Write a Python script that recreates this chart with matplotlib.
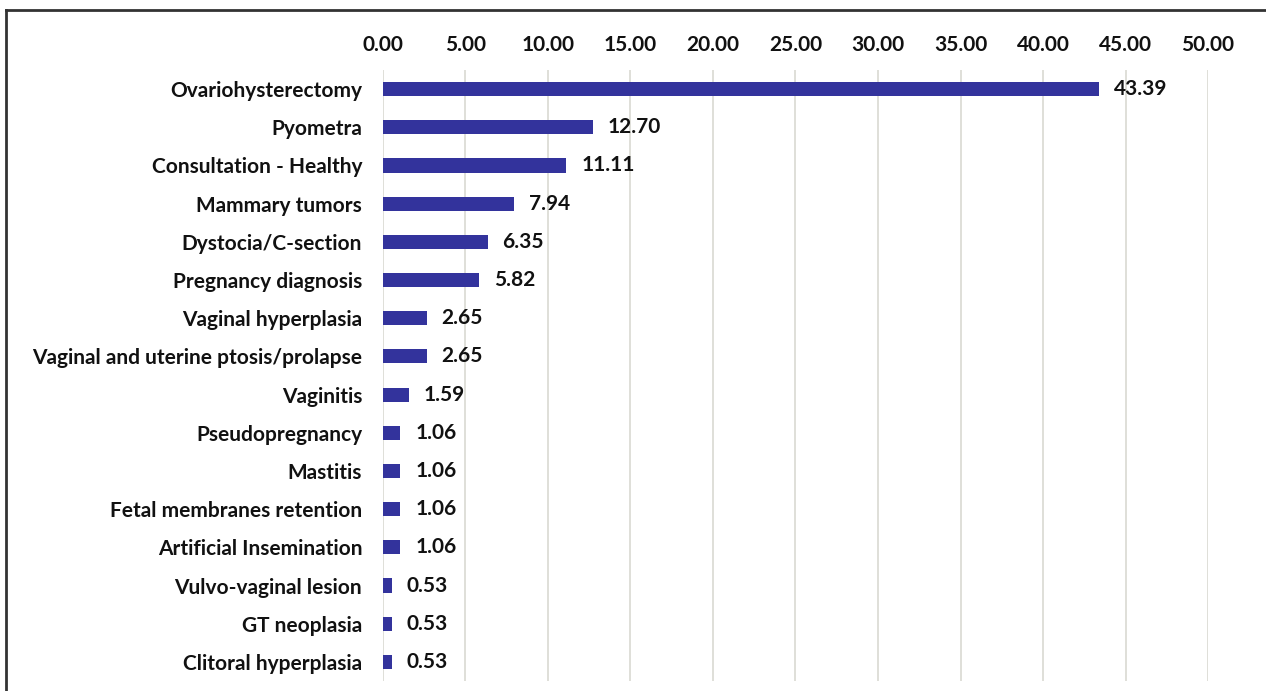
import matplotlib
matplotlib.use("Agg")
import matplotlib.pyplot as plt
from matplotlib.lines import Line2D

categories = [
    "Ovariohysterectomy",
    "Pyometra",
    "Consultation - Healthy",
    "Mammary tumors",
    "Dystocia/C-section",
    "Pregnancy diagnosis",
    "Vaginal hyperplasia",
    "Vaginal and uterine ptosis/prolapse",
    "Vaginitis",
    "Pseudopregnancy",
    "Mastitis",
    "Fetal membranes retention",
    "Artificial Insemination",
    "Vulvo-vaginal lesion",
    "GT neoplasia",
    "Clitoral hyperplasia",
]
values = [43.39, 12.70, 11.11, 7.94, 6.35, 5.82, 2.65, 2.65, 1.59,
          1.06, 1.06, 1.06, 1.06, 0.53, 0.53, 0.53]
x_ticks = [0, 5, 10, 15, 20, 25, 30, 35, 40, 45, 50]

plt.rcParams["font.family"] = ["Lato", "DejaVu Sans"]
plt.rcParams["font.weight"] = "bold"

fig = plt.figure(figsize=(12.66, 6.91), dpi=100)
ax = fig.add_axes([0.3025, 0.0145, 0.6517, 0.8842])

bar_color = "#33339c"
fs = 15
y = list(range(len(categories)))
ax.barh(y, values, height=0.37, color=bar_color, zorder=3)

# 棒の右に数値ラベル
for yi, v in zip(y, values):
    ax.text(v + 0.9, yi, f"{v:.2f}", va="center", ha="left",
            fontsize=fs, fontweight="bold", color="#111111")

ax.set_ylim(len(categories) - 0.5, -0.5)
ax.set_xlim(0, 50)
ax.set_xticks(x_ticks)
ax.set_xticklabels([f"{t:.2f}" for t in x_ticks])
ax.xaxis.tick_top()
ax.tick_params(axis="x", length=0, pad=11, labelsize=fs, labelcolor="#111111")
ax.set_yticks(y)
ax.set_yticklabels(categories)
ax.tick_params(axis="y", length=0, pad=15, labelsize=fs, labelcolor="#111111")

ax.xaxis.grid(True, color="#dcdcd6", linewidth=1.3, zorder=0)
ax.set_axisbelow(True)
for s in ax.spines.values():
    s.set_visible(False)

# 外枠（左と上）
fig.add_artist(Line2D([6 / 1266, 6 / 1266], [0, 1 - 10 / 691],
                      transform=fig.transFigure, color="#333333", linewidth=2))
fig.add_artist(Line2D([6 / 1266, 1], [1 - 10 / 691, 1 - 10 / 691],
                      transform=fig.transFigure, color="#333333", linewidth=2))

fig.savefig("out.png", dpi=100)
